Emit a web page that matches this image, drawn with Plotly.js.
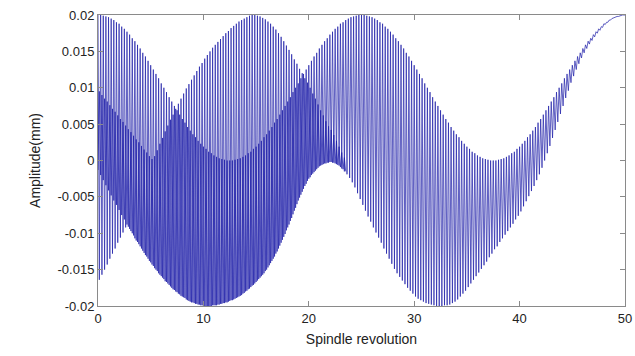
<!DOCTYPE html>
<html>
<head>
<meta charset="utf-8">
<script src="https://cdn.plot.ly/plotly-3.0.1.min.js"></script>
<style>html,body{margin:0;padding:0;background:#fff;}#chart{width:635px;height:356px;}</style>
</head>
<body>
<div id="chart"></div>
<script>
// Sampling step of the revolution axis (peaks and troughs alternate every step)
const sampleStep = 0.125;

// Band X (0-50): peaks at x = 0, 0.25, ..., 50
const bandXPeaks = [
0.0200,0.0200,0.0199,0.0198,0.0197,0.0195,0.0193,0.0190,0.0188,0.0184,
0.0181,0.0177,0.0173,0.0168,0.0164,0.0159,0.0154,0.0148,0.0143,0.0137,
0.0131,0.0125,0.0119,0.0113,0.0106,0.0100,0.0094,0.0087,0.0081,0.0075,
0.0069,0.0063,0.0057,0.0052,0.0046,0.0041,0.0036,0.0032,0.0027,0.0023,
0.0019,0.0016,0.0012,0.0010,0.0007,0.0005,0.0003,0.0002,0.0001,0.0000,
0.0000,
0.0000,0.0001,0.0002,0.0003,0.0005,0.0007,0.0010,0.0012,0.0016,0.0019,
0.0023,0.0027,0.0032,0.0036,0.0041,0.0046,0.0052,0.0057,0.0063,0.0069,
0.0075,0.0081,0.0087,0.0094,0.0100,0.0106,0.0113,0.0119,0.0125,0.0131,
0.0137,0.0143,0.0148,0.0154,0.0159,0.0164,0.0168,0.0173,0.0177,0.0181,
0.0184,0.0188,0.0190,0.0193,0.0195,0.0197,0.0198,0.0199,0.0200,0.0200,
0.0200,0.0199,0.0198,0.0197,0.0195,0.0193,0.0190,0.0188,0.0184,
0.0181,0.0177,0.0173,0.0168,0.0164,0.0159,0.0154,0.0148,0.0143,0.0137,
0.0131,0.0125,0.0119,0.0113,0.0106,0.0100,0.0094,0.0087,0.0081,0.0075,
0.0069,0.0063,0.0057,0.0052,0.0046,0.0041,0.0036,0.0032,0.0027,0.0023,
0.0019,0.0016,0.0012,0.0010,0.0007,0.0005,0.0003,0.0002,0.0001,0.0000,
0.0000,
0.0000,0.0001,0.0002,0.0003,0.0005,0.0007,0.0010,0.0012,0.0016,0.0019,
0.0023,0.0027,0.0032,0.0036,0.0041,0.0046,0.0052,0.0057,0.0063,0.0069,
0.0075,0.0081,0.0087,0.0094,0.0100,0.0106,0.0113,0.0119,0.0125,0.0131,
0.0137,0.0143,0.0148,0.0154,0.0159,0.0164,0.0168,0.0173,0.0177,0.0181,
0.0184,0.0188,0.0190,0.0193,0.0195,0.0197,0.0198,0.0199,0.0200,0.0200];

// Band X troughs at x = 0.125, 0.375, ..., 49.875
const bandXTroughs = [
-0.0164,-0.0157,-0.0150,-0.0143,-0.0135,-0.0128,-0.0121,-0.0113,-0.0106,-0.0099,-0.0092,-0.0091,
-0.0097,-0.0103,-0.0110,-0.0115,-0.0121,-0.0127,-0.0132,-0.0138,-0.0143,-0.0148,
-0.0152,-0.0157,-0.0161,-0.0166,-0.0169,-0.0173,-0.0177,-0.0180,-0.0183,-0.0186,
-0.0188,-0.0191,-0.0193,-0.0195,-0.0196,-0.0197,-0.0198,-0.0199,-0.0200,-0.0200,
-0.0200,-0.0199,-0.0199,-0.0198,-0.0197,-0.0196,-0.0195,-0.0194,-0.0192,-0.0191,
-0.0189,-0.0187,-0.0185,-0.0182,-0.0179,-0.0176,-0.0172,-0.0169,-0.0165,-0.0161,
-0.0157,-0.0152,-0.0147,-0.0141,-0.0135,-0.0128,-0.0121,-0.0113,-0.0105,-0.0096,
-0.0088,-0.0079,-0.0069,-0.0060,-0.0051,-0.0043,-0.0035,-0.0028,-0.0023,-0.0018,
-0.0014,-0.0010,-0.0007,-0.0005,-0.0004,-0.0003,
-0.0002,-0.0003,-0.0005,-0.0007,-0.0011,-0.0015,-0.0019,-0.0024,-0.0030,-0.0037,
-0.0045,-0.0053,-0.0061,-0.0069,-0.0077,-0.0084,-0.0092,-0.0099,-0.0106,-0.0113,
-0.0121,-0.0128,-0.0135,-0.0142,-0.0149,-0.0155,-0.0160,-0.0165,-0.0170,-0.0175,
-0.0179,-0.0183,-0.0187,-0.0190,-0.0192,-0.0194,-0.0196,-0.0197,-0.0198,-0.0199,
-0.0200,-0.0200,
-0.0200,-0.0199,-0.0199,-0.0198,-0.0196,-0.0194,-0.0191,-0.0187,-0.0183,-0.0179,
-0.0174,-0.0169,-0.0164,-0.0159,-0.0154,-0.0149,-0.0144,-0.0139,-0.0133,-0.0128,
-0.0122,-0.0118,-0.0112,-0.0107,-0.0102,-0.0097,-0.0092,-0.0087,-0.0081,-0.0076,
-0.0070,-0.0063,-0.0056,-0.0049,-0.0042,-0.0035,-0.0027,-0.0019,-0.0010,0.0000,
0.0010,0.0020,0.0031,0.0042,0.0053,0.0064,0.0075,0.0086,0.0096,0.0107,
0.0116,0.0125,0.0133,0.0141,0.0148,0.0154,0.0160,0.0165,0.0170,0.0175,
0.0179,0.0183,0.0187,0.0190,0.0193,0.0196,0.0197,0.0198,0.0199,0.0200];

// Band Y (0-23.5): troughs at x = 0, 0.25, ..., 23.5
const bandYTroughs = [
-0.0013,-0.0020,-0.0027,-0.0034,-0.0041,-0.0048,-0.0055,-0.0061,-0.0068,-0.0075,
-0.0081,-0.0088,-0.0094,-0.0100,-0.0107,-0.0112,-0.0118,-0.0124,-0.0130,-0.0135,
-0.0140,-0.0145,-0.0150,-0.0155,-0.0159,-0.0163,-0.0167,-0.0171,-0.0175,-0.0178,
-0.0181,-0.0184,-0.0187,-0.0189,-0.0192,-0.0194,-0.0195,-0.0197,-0.0198,-0.0199,
-0.0200,-0.0200,-0.0200,
-0.0200,-0.0199,-0.0199,-0.0198,-0.0197,-0.0196,-0.0195,-0.0193,-0.0192,-0.0190,
-0.0188,-0.0186,-0.0183,-0.0180,-0.0177,-0.0174,-0.0171,-0.0167,-0.0163,-0.0159,
-0.0155,-0.0150,-0.0144,-0.0138,-0.0132,-0.0125,-0.0117,-0.0109,-0.0101,-0.0092,
-0.0083,-0.0074,-0.0065,-0.0055,-0.0047,-0.0039,-0.0032,-0.0025,-0.0020,-0.0016,
-0.0012,-0.0008,-0.0006,-0.0004,-0.0003,-0.0002,
-0.0003,-0.0004,-0.0006,-0.0009,-0.0012,-0.0015];

// Band Y peaks at x = 0.125, 0.375, ..., 23.375
const bandYPeaks = [
0.0095,0.0090,0.0085,0.0081,0.0076,0.0071,0.0067,0.0062,0.0057,0.0053,
0.0048,0.0043,0.0039,0.0034,0.0029,0.0025,0.0020,0.0015,0.0011,0.0006,
0.0002,
0.0006,0.0014,0.0023,0.0031,0.0040,0.0048,0.0056,0.0063,0.0071,0.0078,
0.0085,0.0092,0.0099,0.0105,0.0111,0.0117,0.0123,0.0129,0.0134,0.0140,
0.0145,0.0150,0.0155,0.0159,0.0163,0.0167,0.0171,0.0175,0.0178,0.0182,
0.0185,0.0188,0.0191,0.0193,0.0195,0.0197,0.0199,0.0200,0.0200,0.0199,
0.0198,0.0196,0.0194,0.0191,0.0188,0.0184,0.0180,0.0175,0.0170,0.0164,
0.0158,0.0152,0.0146,0.0139,0.0133,0.0126,0.0120,0.0113,0.0107,0.0100,
0.0092,0.0085,0.0077,0.0069,0.0062,0.0054,0.0047,
0.0042,0.0035,0.0027,0.0019,0.0011,0.0004];

// Axis ticks
const xTickVals = [0,10,20,30,40,50];
const yTickVals = [0.02,0.015,0.01,0.005,0,-0.005,-0.01,-0.015,-0.02];
const yTickText = ['0.02','0.015','0.01','0.005','0','-0.005','-0.01','-0.015','-0.02'];

function interleave(evenVals, oddVals){
  const xs = [], ys = [];
  const n = Math.min(evenVals.length, oddVals.length + 1) + Math.min(oddVals.length, evenVals.length);
  for (let j = 0; j < n; j++){
    xs.push(j * sampleStep);
    ys.push(j % 2 === 0 ? evenVals[j/2] : oddVals[(j-1)/2]);
  }
  return {xs, ys};
}

const bx = interleave(bandXPeaks, bandXTroughs);
const by = interleave(bandYTroughs, bandYPeaks);

const lineStyle = {color: 'rgb(28,28,168)', width: 0.7};

const traces = [
  {x: bx.xs, y: bx.ys, type: 'scatter', mode: 'lines', line: lineStyle, hoverinfo: 'skip', showlegend: false},
  {x: by.xs, y: by.ys, type: 'scatter', mode: 'lines', line: lineStyle, hoverinfo: 'skip', showlegend: false}
];

const axisCommon = {
  showgrid: false, zeroline: false, showline: true, linecolor: '#8a8a8a', linewidth: 1,
  mirror: 'ticks', ticks: 'inside', ticklen: 5, tickcolor: '#8a8a8a', tickwidth: 1,
  tickfont: {family: 'Liberation Sans, Arial, sans-serif', size: 13, color: '#222'}
};

const layout = {
  width: 635, height: 356,
  margin: {l: 98, r: 10, t: 15, b: 50},
  paper_bgcolor: '#fff', plot_bgcolor: '#fff',
  font: {family: 'Liberation Sans, Arial, sans-serif', color: '#222'},
  xaxis: Object.assign({}, axisCommon, {
    range: [0, 50], tickmode: 'array', tickvals: xTickVals,
    title: {text: 'Spindle revolution', font: {size: 14, color: '#222'}, standoff: 9}
  }),
  yaxis: Object.assign({}, axisCommon, {
    range: [-0.02, 0.02], tickmode: 'array', tickvals: yTickVals, ticktext: yTickText,
    title: {text: 'Amplitude(mm)', font: {size: 14, color: '#222'}, standoff: 13}
  }),
  showlegend: false
};

Plotly.newPlot('chart', traces, layout, {staticPlot: true, displayModeBar: false});
</script>
</body>
</html>
